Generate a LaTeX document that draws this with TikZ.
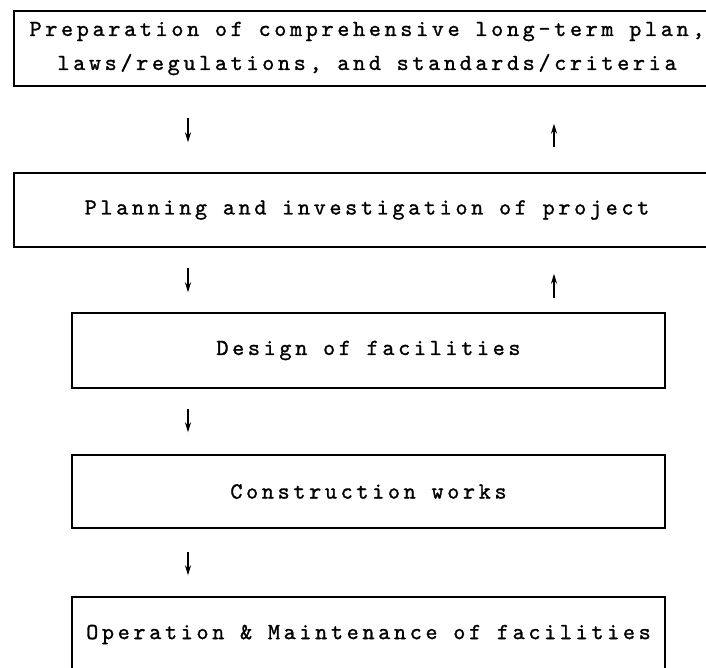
\documentclass[tikz,border=0pt]{standalone}
\usepackage{fontspec}
\newfontfamily\typewriter{lmmono10-regular}[Extension=.otf,LetterSpace=16,FakeBold=1.2]
\usetikzlibrary{arrows.meta}
\begin{document}
\begin{tikzpicture}[x=1pt,y=-1pt,font=\typewriter\fontsize{23}{34}\selectfont,box/.style={draw,line width=1.4pt,align=center,inner sep=0pt,minimum height=75pt},flow/.style={->,line width=2.2pt},>={Stealth[length=10pt,width=6pt]}]
\useasboundingbox (0,0) rectangle (706,667);
\clip (0,0) rectangle (706,667);
\node[box,minimum width=706pt] (prep) at (367,48.5) {Preparation of comprehensive long-term plan,\\laws/regulations, and standards/criteria};
\node[box,minimum width=706pt,minimum height=74pt] (plan) at (367,210) {Planning and investigation of project};
\node[box,minimum width=593pt] (design) at (368.5,350.5) {Design of facilities};
\node[box,minimum width=593pt,minimum height=73pt] (works) at (368.5,491.5) {Construction works};
\node[box,minimum width=593pt] (om) at (368.5,634.5) {Operation \& Maintenance of facilities};
% columns of the short arrows
\coordinate (dn) at (188,0);
\coordinate (up) at (554,0);
\draw[flow,shorten <=31pt,shorten >=30pt] (prep.south -| dn)--(plan.north -| dn);
\draw[flow,shorten <=25pt,shorten >=37pt] (plan.north -| up)--(prep.south -| up);
\draw[flow,shorten <=20pt,shorten >=20pt] (plan.south -| dn)--(design.north -| dn);
\draw[flow,shorten <=14pt,shorten >=26pt] (design.north -| up)--(plan.south -| up);
\draw[flow,shorten <=20pt,shorten >=22pt] (design.south -| dn)--(works.north -| dn);
\draw[flow,shorten <=23pt,shorten >=21pt] (works.south -| dn)--(om.north -| dn);
\end{tikzpicture}
\end{document}
